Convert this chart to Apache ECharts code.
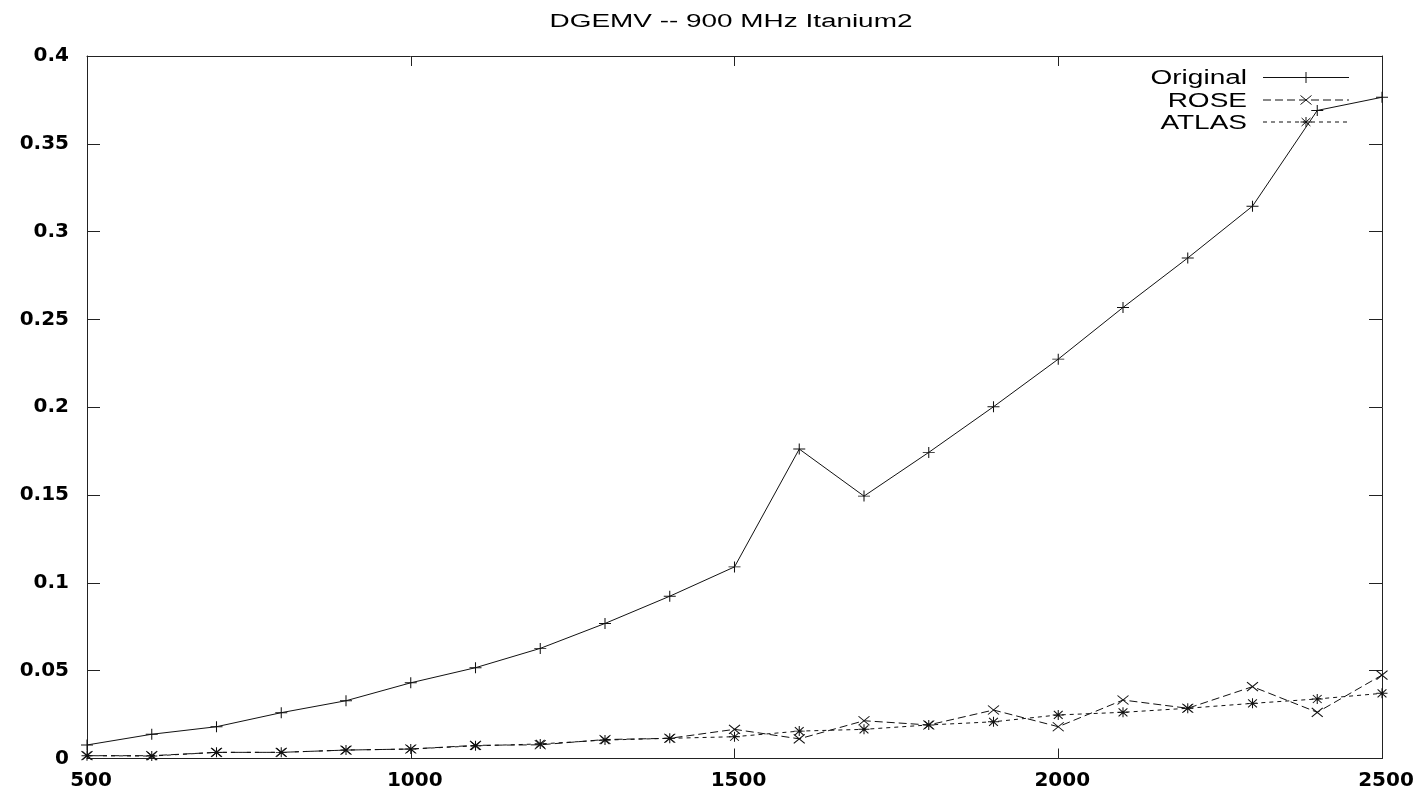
<!DOCTYPE html>
<html>
<head>
<meta charset="utf-8">
<script src="https://cdn.jsdelivr.net/npm/echarts@6/dist/echarts.min.js"></script>
<style>
  html, body { margin: 0; padding: 0; background: #fff; }
  #chart { width: 1426px; height: 794px; }
</style>
</head>
<body>
<div id="chart"></div>
<script>
// Matrix size N (x) and time in seconds (y)
const sizes = [500, 600, 700, 800, 900, 1000, 1100, 1200, 1300, 1400, 1500,
               1600, 1700, 1800, 1900, 2000, 2100, 2200, 2300, 2400, 2500];
const original = [0.0077, 0.0138, 0.0181, 0.0261, 0.0329, 0.0431, 0.0517, 0.0627, 0.0769, 0.0924, 0.1091,
                  0.1762, 0.1494, 0.1743, 0.2003, 0.2274, 0.2568, 0.2850, 0.3145, 0.3690, 0.3765];
const rose = [0.0016, 0.0016, 0.0035, 0.0035, 0.0048, 0.0054, 0.0075, 0.0078, 0.0108, 0.0115, 0.0166,
              0.0112, 0.0215, 0.0191, 0.0276, 0.0181, 0.0333, 0.0286, 0.0409, 0.0263, 0.0475];
const atlas = [0.0016, 0.0014, 0.0035, 0.0035, 0.0048, 0.0054, 0.0072, 0.0083, 0.0105, 0.0115, 0.0124,
               0.0156, 0.0166, 0.0191, 0.0209, 0.0248, 0.0263, 0.0286, 0.0314, 0.0339, 0.0371];
const seriesNames = ['Original', 'ROSE', 'ATLAS'];
const titleText = 'DGEMV -- 900 MHz Itanium2';

// gnuplot-style point shapes, as strokes inside a 10x10 box
const SEGMENTS = {
  plus:  [[0, 5, 10, 5], [5, 0, 5, 10]],
  cross: [[0, 0, 10, 10], [10, 0, 0, 10]],
  star:  [[0, 5, 10, 5], [5, 0, 5, 10], [1, 1, 9, 9], [9, 1, 1, 9]]
};
const toPath = segs => 'path://' + segs.map(s => 'M' + s[0] + ',' + s[1] + 'L' + s[2] + ',' + s[3]).join('');

const INK = '#111';
const AXIS = '#222';
const TEXT_FONT = 'Liberation Sans, Arial, Helvetica, sans-serif';
const LABEL_FONT = 'DejaVu Sans, sans-serif';

const styles = [
  { shape: 'plus',  size: [12, 11], dash: 'solid' },
  { shape: 'cross', size: [11, 9],  dash: [8, 4] },
  { shape: 'star',  size: [11, 10], dash: [4, 4] }
];
const values = [original, rose, atlas];

const pairs = arr => sizes.map((n, i) => [n, arr[i]]);

const chart = echarts.init(document.getElementById('chart'), null, { renderer: 'canvas' });

const xBase = {
  type: 'value', min: 500, max: 2500, interval: 500,
  axisLine: { show: true, onZero: false, lineStyle: { color: AXIS, width: 1 } },
  axisTick: { show: true, inside: true, length: 10, lineStyle: { color: AXIS, width: 1 } },
  splitLine: { show: false }
};
const yBase = {
  type: 'value', min: 0, max: 0.4, interval: 0.05,
  axisLine: { show: true, onZero: false, lineStyle: { color: AXIS, width: 1 } },
  axisTick: { show: true, inside: true, length: 13, lineStyle: { color: AXIS, width: 1 } },
  splitLine: { show: false }
};

// key drawn gnuplot-style: right-aligned name, sample line, point
const keyRows = [77.5, 100, 122];
const keyTextRight = 1247, keyLineX1 = 1263, keyLineX2 = 1349, keyMarkX = 1306;
const keyElements = [];
seriesNames.forEach((name, i) => {
  const y = keyRows[i];
  keyElements.push({
    type: 'text', x: keyTextRight, y: y + 1, scaleX: 1.4,
    style: { text: name, fill: '#000', fontSize: 20, fontFamily: TEXT_FONT,
             align: 'right', verticalAlign: 'middle', textAlign: 'right', textVerticalAlign: 'middle' }
  });
  keyElements.push({
    type: 'line',
    shape: { x1: keyLineX1, y1: y, x2: keyLineX2, y2: y },
    style: { stroke: INK, lineWidth: 1, lineDash: styles[i].dash === 'solid' ? null : styles[i].dash }
  });
  const sz = styles[i].size;
  const ox = keyMarkX - sz[0] / 2, oy = y - sz[1] / 2;
  SEGMENTS[styles[i].shape].forEach(s => {
    keyElements.push({
      type: 'line',
      shape: { x1: ox + s[0] * sz[0] / 10, y1: oy + s[1] * sz[1] / 10,
               x2: ox + s[2] * sz[0] / 10, y2: oy + s[3] * sz[1] / 10 },
      style: { stroke: INK, lineWidth: 1 }
    });
  });
});

const option = {
  animation: false,
  backgroundColor: '#fff',
  graphic: [
    {
      type: 'text', x: 731, y: 22.5, scaleX: 1.55,
      style: { text: titleText, fill: '#000', fontSize: 18, fontFamily: TEXT_FONT,
               align: 'center', verticalAlign: 'middle', textAlign: 'center', textVerticalAlign: 'middle' }
    }
  ].concat(keyElements),
  grid: { left: 87, top: 56, width: 1295, height: 702.5, containLabel: false },
  xAxis: [
    Object.assign({}, xBase, {
      position: 'bottom',
      axisLabel: { show: true, margin: 12, color: '#000', fontSize: 20, fontWeight: 'bold',
                   fontFamily: LABEL_FONT, padding: [0, 0, 0, 8],
                   formatter: v => String(v) }
    }),
    Object.assign({}, xBase, { position: 'top', axisLabel: { show: false } })
  ],
  yAxis: [
    Object.assign({}, yBase, {
      position: 'left',
      axisLabel: { show: true, margin: 18, color: '#000', fontSize: 20, fontWeight: 'bold',
                   fontFamily: LABEL_FONT, formatter: v => String(+v.toFixed(2)) }
    }),
    Object.assign({}, yBase, { position: 'right', axisLabel: { show: false } })
  ],
  series: seriesNames.map((name, i) => ({
    name: name,
    type: 'line',
    xAxisIndex: 0,
    yAxisIndex: 0,
    data: pairs(values[i]),
    showSymbol: true,
    showAllSymbol: true,
    symbol: toPath(SEGMENTS[styles[i].shape]),
    symbolSize: styles[i].size,
    lineStyle: { color: INK, width: 1, type: styles[i].dash },
    itemStyle: { color: INK, borderColor: INK, borderWidth: 1 },
    emphasis: { disabled: true },
    z: 3 - i
  }))
};

chart.setOption(option);
</script>
</body>
</html>
